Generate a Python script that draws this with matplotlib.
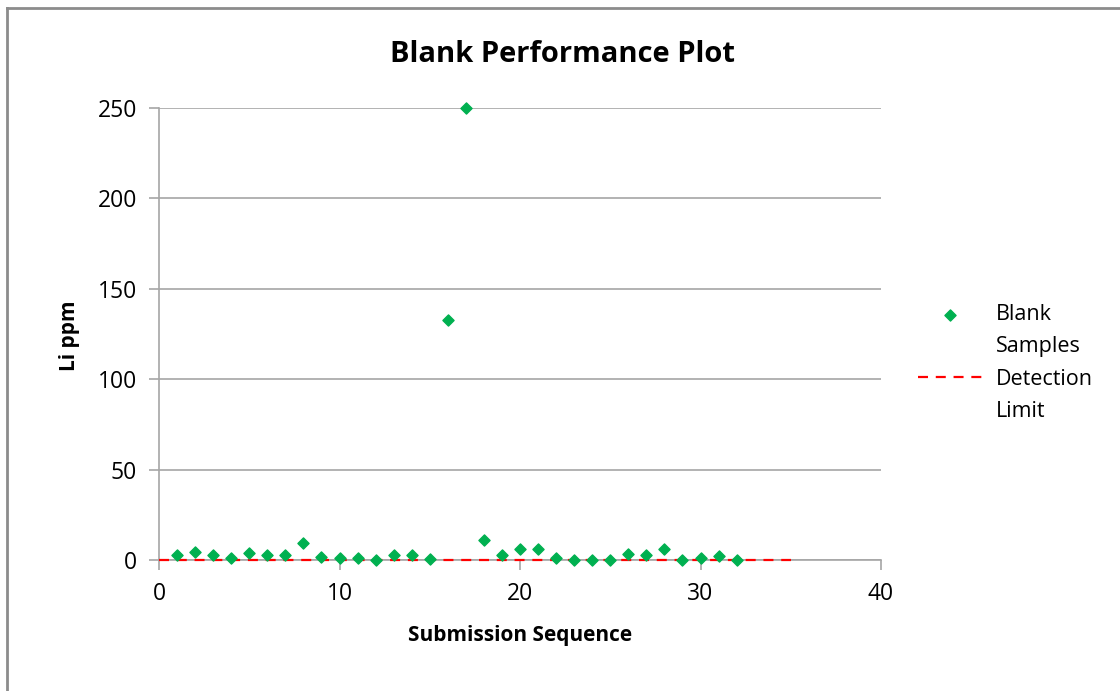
import numpy as np
import matplotlib
matplotlib.use('Agg')
import matplotlib.pyplot as plt
from matplotlib.lines import Line2D

plt.rcParams['font.family'] = ['Open Sans', 'DejaVu Sans']

# blank sample results, Li ppm, by submission sequence
seq = np.arange(1, 33)
li_ppm = [2.8, 4.6, 2.8, 0.9, 4.0, 2.8, 2.8, 9.6, 1.8, 1.3,
          1.3, 0.2, 2.6, 2.6, 0.4, 132.7, 250.0, 11.0, 2.8, 5.9,
          5.9, 0.9, 0.0, 0.0, 0.0, 3.1, 2.6, 5.9, 0.0, 1.3,
          2.2, 0.0]

# detection limit line
det_x = [0, 35]
det_y = [0, 0]

grey = '#a6a6a6'

fig = plt.figure(figsize=(11.2, 6.91), dpi=100)
ax = fig.add_axes([159/1120, 1 - 560/691, (881-159)/1120, (560-108)/691])

det_line, = ax.plot(det_x, det_y, color='red', linestyle=(0, (4.5, 3.5)), linewidth=1.6,
                    zorder=5, clip_on=False)
pts = ax.scatter(seq, li_ppm, marker='D', s=32, color='#00b050', zorder=6, clip_on=False)

ax.set_xlim(0, 40)
ax.set_ylim(0, 250)
ax.set_xticks([0, 10, 20, 30, 40])
ax.set_yticks([0, 50, 100, 150, 200, 250])
ax.yaxis.grid(True, color=grey, linewidth=1.2)
ax.set_axisbelow(True)
for s in ['top', 'right']:
    ax.spines[s].set_visible(False)
for s in ['left', 'bottom']:
    ax.spines[s].set_color(grey)
    ax.spines[s].set_linewidth(1.2)
ax.tick_params(colors=grey, length=7, width=1.2, labelsize=16.5, labelcolor='black')
ax.tick_params(axis='x', pad=9)
ax.tick_params(axis='y', pad=9)

fig.text(563/1120, 1 - 54/691, 'Blank Performance Plot', fontsize=21, fontweight='bold',
         ha='center', va='center')
ax.set_xlabel('Submission Sequence', fontsize=15, fontweight='bold')
ax.set_ylabel('Li ppm', fontsize=15, fontweight='bold')
ax.xaxis.set_label_coords(0.5, (560 - 635) / 452)
ax.xaxis.label.set_va('center')
ax.yaxis.set_label_coords((70 - 159) / 722, (560 - 336) / 452)
ax.yaxis.label.set_va('center')

# excel-style legend: symbol sits next to the first line of each wrapped label
blank = Line2D([], [], linestyle='none')
leg = ax.legend([pts, blank, det_line, blank], ['Blank', 'Samples', 'Detection', 'Limit'],
                loc='center left',
                bbox_to_anchor=(918/1120, 1 - 363/691), bbox_transform=fig.transFigure,
                frameon=False, fontsize=15.5, handlelength=3.0, labelspacing=0.52,
                handletextpad=0.6, borderpad=0, borderaxespad=0)

# outer chart border
fig.add_artist(Line2D([7/1120, 7/1120], [0, 1 - 8/691], color='#8c8c8c', linewidth=2))
fig.add_artist(Line2D([7/1120, 1], [1 - 8/691, 1 - 8/691], color='#8c8c8c', linewidth=2))

fig.savefig('out.png', dpi=100)
